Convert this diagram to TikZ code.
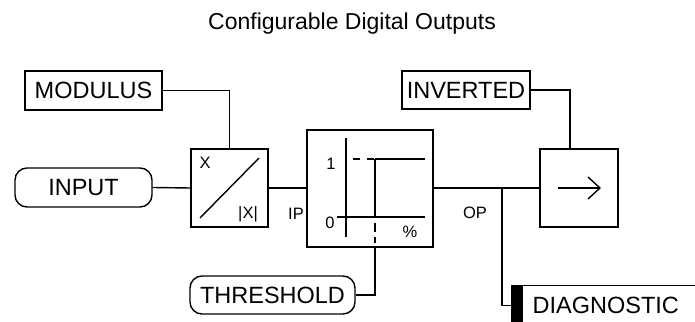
\documentclass[tikz,border=0pt]{standalone}
\usepackage{fontspec}
\setmainfont{Liberation Sans}
\usetikzlibrary{arrows.meta}
\begin{document}
\begin{tikzpicture}[x=1pt,y=-1pt, line width=1.4pt,
  box/.style={draw, rectangle, inner sep=0pt, font=\fontsize{23.5}{27}\selectfont},
  rbox/.style={box, rounded corners=12pt},
  lbl/.style={font=\fontsize{16.5}{19}\selectfont, inner sep=0pt}]
\useasboundingbox (0,0) rectangle (695,321);
\clip (0,0) rectangle (695,321);
% title
\node[font=\fontsize{23}{27}\selectfont, inner sep=0pt, anchor=base] (title) at (352,30) {Configurable Digital Outputs};
% boxes
\node[box, minimum width=137, minimum height=39] (modulus) at (93.5,90.5) {MODULUS};
\node[rbox, minimum width=137, minimum height=39] (input) at (83.5,187.5) {INPUT};
\node[box, minimum width=77, minimum height=78] (xbox) at (229.5,188) {};
\node[box, minimum width=126, minimum height=117] (thr) at (370,188.5) {};
\node[rbox, minimum width=165, minimum height=38] (threshold) at (272.5,295) {THRESHOLD};
\node[box, minimum width=128, minimum height=38] (inverted) at (466,90) {INVERTED};
\node[box, minimum width=78, minimum height=78] (outbox) at (579,188) {};
\node[box, anchor=north west, minimum height=40, text width=200, align=left, inner xsep=21pt] (diag) at (511,285) {DIAGNOSTIC};
\fill (diag.north west) rectangle ++(12,40);
% modulus block interior
\node[lbl] (xl) at (205,163) {X};
\node[lbl] (axl) at (248,214) {|X|};
\draw (200,218) -- (259,158);
% threshold block interior
\node[lbl] (one) at (331,164) {1};
\node[lbl] (zero) at (330,222.5) {0};
\node[lbl] (pct) at (410,232) {\%};
\draw (346,138) -- (346,237);
\draw (337,217) -- (425,217);
\draw[dash pattern=on 7pt off 7pt] (353,159) -- (375,159);
\draw (375,159) -- (425,159);
\draw (375,159) -- (375,217);
\draw[dash pattern=on 0pt off 6pt on 9pt off 5pt on 6pt off 10pt] (375,217) -- (375,247);
% output block interior
\draw[-{Straight Barb[length=12pt,width=22pt,line width=1.4pt]}] (558,188) -- (601,188);
% labels
\node[lbl] (ip) at (296,213.5) {IP};
\node[lbl] (op) at (475,213) {OP};
% connectors
\coordinate (stepbot) at (375,247);
\coordinate (invdrop) at (570,149);
\coordinate (br) at (502,188);
\draw (modulus.east) -| (xbox.north);
\draw (input.east) -- (xbox.west);
\draw (xbox.east) -- (thr.west |- xbox.east);
\draw (threshold.east) -| (stepbot);
\draw (thr.east |- outbox.west) -- (outbox.west);
\draw (inverted.east) -| (invdrop);
\draw (br) |- (diag.west);
\end{tikzpicture}
\end{document}
